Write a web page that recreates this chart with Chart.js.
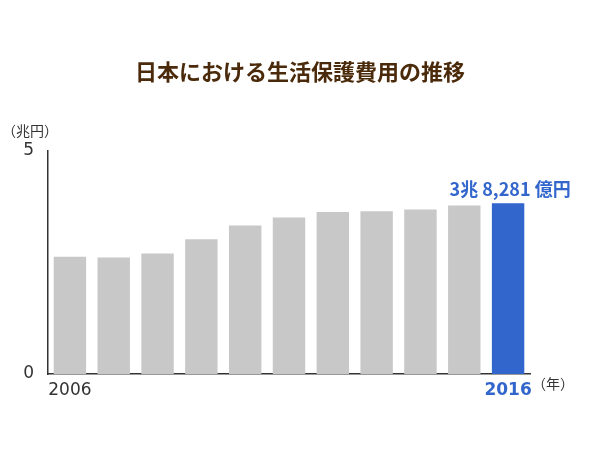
<!DOCTYPE html>
<html>
<head>
<meta charset="utf-8">
<script src="https://cdn.jsdelivr.net/npm/chart.js@4/dist/chart.umd.min.js"></script>
<style>body{margin:0;background:#fff}</style>
</head>
<body>
<canvas id="c" width="600" height="450"></canvas>
<script>
const years = ['2006','2007','2008','2009','2010','2011','2012','2013','2014','2015','2016'];
const costs = [2.63, 2.61, 2.70, 3.02, 3.33, 3.51, 3.63, 3.65, 3.69, 3.78, 3.8281];
const shownYears = ['2006', '2016'];
const FONT = '"Noto Sans CJK JP", "Noto Sans", sans-serif';
const TICKFONT = '"DejaVu Sans", "Noto Sans", sans-serif';
const BLUE = '#3366cc';

const extras = {
  id: 'extras',
  afterDraw(chart) {
    const ctx = chart.ctx;
    const x = chart.scales.x, y = chart.scales.y;
    ctx.save();
    ctx.fillStyle = '#4a2a0a';
    ctx.font = 'bold 22px ' + FONT;
    ctx.textAlign = 'center';
    ctx.textBaseline = 'middle';
    ctx.fillText('日本における生活保護費用の推移', 300, 72);

    ctx.fillStyle = '#333';
    ctx.font = '14px ' + FONT;
    ctx.textAlign = 'left';
    ctx.fillText('（兆円）', 2, 131);
    ctx.fillText('（年）', x.right + 2, 384);

    const last = costs.length - 1;
    ctx.fillStyle = BLUE;
    ctx.font = 'bold 18px ' + FONT;
    ctx.textAlign = 'center';
    ctx.fillText('3兆 8,281 億円', x.getPixelForValue(last) + 2, y.getPixelForValue(costs[last]) - 14);
    ctx.restore();
  }
};

new Chart(document.getElementById('c'), {
  type: 'bar',
  data: {
    labels: years,
    datasets: [{
      data: costs,
      backgroundColor: costs.map((v, i) => i === costs.length - 1 ? BLUE : '#c8c8c8'),
      categoryPercentage: 1,
      barPercentage: 0.74
    }]
  },
  options: {
    responsive: false,
    animation: false,
    layout: { padding: { top: 151, right: 70, bottom: 50, left: 0 } },
    plugins: { legend: { display: false }, title: { display: false }, tooltip: { enabled: false } },
    scales: {
      x: {
        grid: { display: false },
        border: { color: '#333', width: 1.5 },
        afterFit: s => { s.height = 26; },
        ticks: {
          autoSkip: false, maxRotation: 0, padding: -2,
          callback: (v, i) => shownYears.includes(years[i]) ? years[i] : '',
          color: c => c.index === years.length - 1 ? BLUE : '#333',
          font: c => ({ family: TICKFONT, size: 17, weight: c.index === years.length - 1 ? 'bold' : 'normal' })
        }
      },
      y: {
        min: 0, max: 5,
        grid: { display: false },
        border: { color: '#333', width: 1.5 },
        afterFit: s => { s.width = 48; },
        ticks: { stepSize: 5, color: '#333', padding: 6, font: { family: TICKFONT, size: 17 } }
      }
    }
  },
  plugins: [extras]
});
</script>
</body>
</html>
